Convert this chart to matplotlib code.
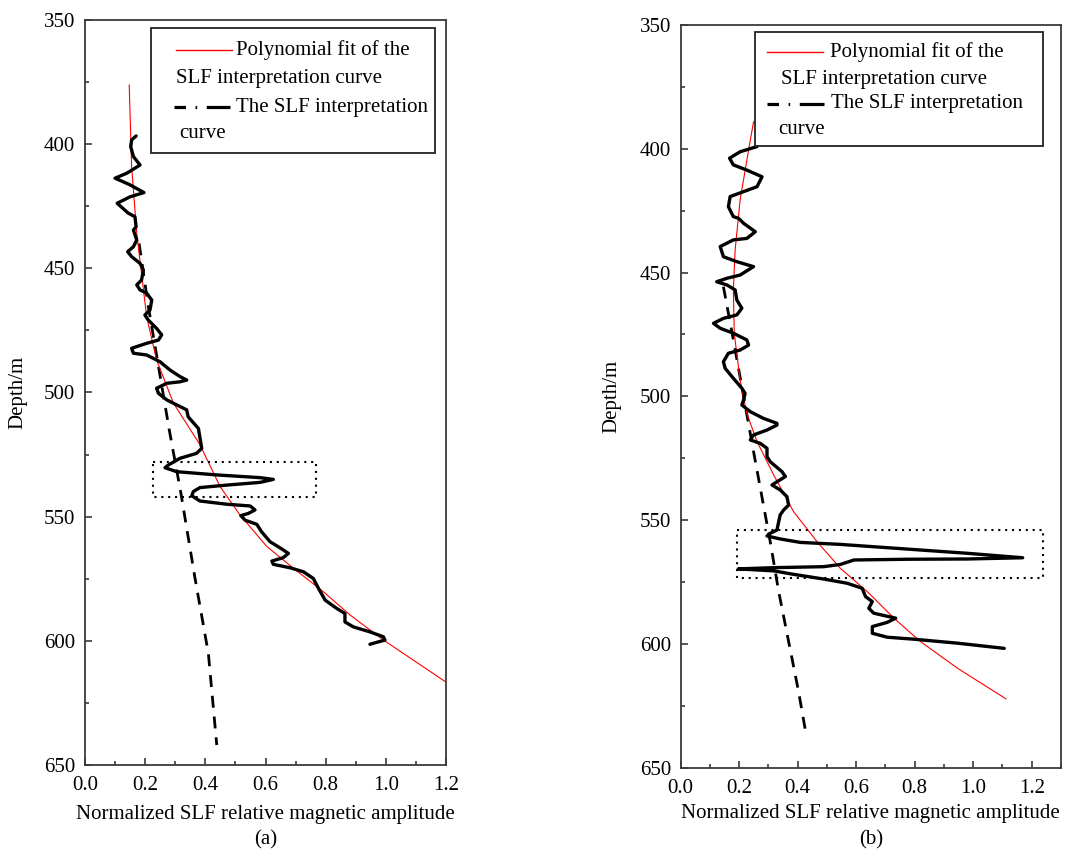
import matplotlib
matplotlib.use('Agg')
import matplotlib.pyplot as plt
from matplotlib.lines import Line2D
from matplotlib.patches import Rectangle
from matplotlib.ticker import MultipleLocator

plt.rcParams['font.family'] = ['Liberation Serif', 'DejaVu Serif']
plt.rcParams['font.size'] = 15

# ---- panel (a) ----
a_slf_x = [0.170, 0.155, 0.152, 0.161, 0.183, 0.139, 0.100, 0.150, 0.196, 0.150,
           0.107, 0.144, 0.166, 0.170, 0.161, 0.172, 0.161, 0.142, 0.155, 0.183,
           0.194, 0.188, 0.172, 0.183, 0.205, 0.222, 0.216, 0.199, 0.210, 0.238,
           0.255, 0.244, 0.205, 0.155, 0.161, 0.205, 0.249, 0.283, 0.316, 0.338,
           0.316, 0.272, 0.238, 0.244, 0.272, 0.305, 0.338, 0.343, 0.377, 0.388,
           0.371, 0.316, 0.277, 0.266, 0.305, 0.438, 0.582, 0.626, 0.582, 0.471,
           0.382, 0.360, 0.355, 0.382, 0.471, 0.549, 0.565, 0.543, 0.518, 0.532,
           0.571, 0.587, 0.615, 0.654, 0.676, 0.659, 0.621, 0.626, 0.682, 0.726,
           0.759, 0.776, 0.798, 0.837, 0.864, 0.864, 0.892, 0.947, 0.992, 0.997,
           0.970, 0.947]
a_slf_depth = [396.7, 398.3, 401.0, 405.0, 408.4, 411.7, 413.7, 416.4, 419.5, 421.2,
               423.8, 427.8, 429.2, 433.2, 434.6, 438.6, 441.3, 443.3, 445.3, 448.0,
               450.7, 454.7, 456.7, 458.7, 460.0, 462.8, 466.8, 468.8, 470.8, 474.2,
               476.8, 478.9, 480.2, 482.2, 484.2, 484.9, 487.6, 491.0, 493.6, 495.0,
               495.7, 496.3, 498.3, 500.3, 503.0, 505.0, 507.0, 509.8, 514.5, 522.5,
               524.5, 526.5, 529.2, 530.3, 531.9, 533.2, 534.3, 535.0, 536.2, 537.3,
               538.3, 539.9, 541.6, 543.7, 545.0, 545.7, 547.3, 548.7, 549.6, 551.4,
               553.1, 556.1, 560.1, 563.0, 564.8, 566.5, 567.9, 569.2, 570.6, 572.2,
               574.9, 578.9, 583.6, 587.0, 589.0, 592.4, 594.4, 596.4, 598.4, 599.7,
               600.6, 601.4]
a_fit_x = [0.147, 0.155, 0.172, 0.205, 0.238, 0.294, 0.382, 0.449, 0.515, 0.604,
           0.693, 0.792, 0.881, 0.992, 1.197]
a_fit_depth = [376.2, 409.0, 435.9, 469.5, 486.9, 504.3, 521.0, 537.9, 549.3, 562.0,
               570.8, 580.2, 589.6, 599.7, 616.4]
a_trend_x = [0.180, 0.210, 0.245, 0.280, 0.318, 0.366, 0.410, 0.438]
a_trend_depth = [440, 465, 490, 515, 540, 575, 605, 642]
a_box = (0.225, 0.768, 528, 542)   # x0, x1, depth top, depth bottom

# ---- panel (b) ----
b_slf_x = [0.261, 0.203, 0.167, 0.180, 0.226, 0.278, 0.261, 0.215, 0.169, 0.163,
           0.180, 0.198, 0.215, 0.255, 0.226, 0.180, 0.135, 0.146, 0.192, 0.249,
           0.203, 0.158, 0.123, 0.158, 0.186, 0.192, 0.209, 0.192, 0.146, 0.112,
           0.135, 0.180, 0.226, 0.232, 0.203, 0.163, 0.146, 0.152, 0.180, 0.209,
           0.220, 0.215, 0.209, 0.238, 0.283, 0.329, 0.329, 0.295, 0.249, 0.238,
           0.272, 0.295, 0.295, 0.306, 0.346, 0.358, 0.329, 0.312, 0.340, 0.363,
           0.369, 0.352, 0.340, 0.335, 0.329, 0.306, 0.295, 0.340, 0.409, 0.546,
           0.775, 0.980, 1.169, 0.980, 0.775, 0.592, 0.546, 0.489, 0.318, 0.197,
           0.318, 0.386, 0.489, 0.569, 0.620, 0.632, 0.655, 0.643, 0.660, 0.735,
           0.706, 0.655, 0.655, 0.706, 0.797, 0.946, 1.106]
b_slf_depth = [399.1, 401.2, 403.8, 406.5, 408.6, 411.3, 415.3, 417.3, 419.3, 423.4,
               427.4, 428.1, 430.1, 433.5, 436.2, 436.8, 439.5, 443.6, 445.6, 447.6,
               451.0, 452.3, 453.7, 455.0, 457.0, 461.1, 464.4, 467.1, 468.5, 470.5,
               472.5, 474.5, 477.2, 479.3, 481.3, 482.6, 486.0, 488.7, 492.7, 496.7,
               498.8, 501.5, 503.5, 506.2, 508.9, 510.9, 511.6, 513.6, 515.6, 517.6,
               519.0, 521.0, 524.4, 526.4, 530.4, 532.4, 534.5, 535.8, 537.8, 540.5,
               543.9, 545.9, 547.9, 550.6, 554.0, 555.3, 556.4, 557.6, 559.0, 559.8,
               561.7, 563.4, 565.2, 565.7, 565.8, 566.1, 567.9, 568.8, 569.2, 569.7,
               570.5, 571.9, 573.8, 575.5, 577.5, 580.9, 582.9, 585.6, 587.6, 589.6,
               591.3, 593.0, 595.7, 597.3, 598.1, 599.7, 601.8]
b_fit_x = [0.249, 0.232, 0.203, 0.186, 0.180, 0.183, 0.203, 0.226, 0.261, 0.318,
           0.386, 0.466, 0.546, 0.638, 0.729, 0.820, 0.946, 1.112]
b_fit_depth = [389.1, 400.5, 420.7, 440.9, 457.0, 474.5, 493.4, 506.9, 518.3, 531.8,
               546.6, 558.7, 569.5, 578.9, 589.6, 599.1, 609.8, 622.2]
b_trend_x = [0.146, 0.180, 0.249, 0.306, 0.335, 0.369, 0.403, 0.426]
b_trend_depth = [455.7, 477.2, 522.3, 558.7, 578.9, 599.1, 619.3, 634.8]
b_box = (0.192, 1.238, 554, 573.2)

fit_label = ['Polynomial fit of the', 'SLF interpretation curve']
slf_label = ['The SLF interpretation', 'curve']
x_label = 'Normalized SLF relative magnetic amplitude'
y_label = 'Depth/m'

spine_col = '#3a3a3a'


def draw_panel(ax, slf_x, slf_d, fit_x, fit_d, trend_x, trend_d, box, xmax):
    ax.plot(fit_x, fit_d, color='red', lw=0.8, zorder=3)
    ax.plot(trend_x, trend_d, color='black', lw=2.0, dashes=(4.3, 3.2), zorder=2)
    ax.plot(slf_x, slf_d, color='black', lw=2.4, solid_joinstyle='round',
            solid_capstyle='round', zorder=4)
    x0, x1, d0, d1 = box
    ax.add_patch(Rectangle((x0, d0), x1 - x0, d1 - d0, fill=False, ec='black',
                           lw=1.5, ls=(0, (1, 2.3)), zorder=3))
    ax.set_xlim(0, xmax)
    ax.set_ylim(650, 350)
    ax.set_xticks([0.0, 0.2, 0.4, 0.6, 0.8, 1.0, 1.2])
    ax.set_xticklabels(['0.0', '0.2', '0.4', '0.6', '0.8', '1.0', '1.2'])
    ax.xaxis.set_minor_locator(MultipleLocator(0.1))
    ax.set_yticks([350, 400, 450, 500, 550, 600, 650])
    ax.yaxis.set_minor_locator(MultipleLocator(25))
    ax.tick_params(which='both', direction='in', color=spine_col, width=1.2,
                   top=False, right=False, labelsize=15)
    ax.tick_params(which='major', length=5)
    ax.tick_params(which='minor', length=3)
    ax.tick_params(axis='y', pad=7)
    ax.tick_params(axis='x', pad=8)
    for s in ax.spines.values():
        s.set_color(spine_col)
        s.set_linewidth(1.3)


def draw_key(ax, box, h1, h2, rows):
    bx0, bx1, by0, by1 = box
    ax.add_patch(Rectangle((bx0, by0), bx1 - bx0, by1 - by0, transform=ax.transAxes,
                           fc='white', ec='#222222', lw=1.3, zorder=6))
    ax.add_line(Line2D(h1[:2], [h1[2], h1[2]], transform=ax.transAxes, color='red',
                       lw=1.0, zorder=7))
    ax.add_line(Line2D(h2[:2], [h2[2], h2[2]], transform=ax.transAxes, color='black',
                       lw=2.3, dashes=(3.6, 3.0, 0.5, 3.0, 10, 2), dash_capstyle='butt',
                       zorder=7))
    for tx, ty, s in rows:
        ax.text(tx, ty, s, transform=ax.transAxes, ha='left', va='center',
                fontsize=15, zorder=8)


fig = plt.figure(figsize=(10.73, 8.51), dpi=100)
ax_a = fig.add_axes([0.0792, 0.1011, 0.3365, 0.8754])
ax_b = fig.add_axes([0.6344, 0.0979, 0.3544, 0.8727])

draw_panel(ax_a, a_slf_x, a_slf_depth, a_fit_x, a_fit_depth, a_trend_x, a_trend_depth,
           a_box, 1.2)
draw_panel(ax_b, b_slf_x, b_slf_depth, b_fit_x, b_fit_depth, b_trend_x, b_trend_depth,
           b_box, 1.3)

draw_key(ax_a, (0.182, 0.970, 0.8215, 0.989), (0.252, 0.407, 0.960), (0.246, 0.402, 0.883),
         [(0.419, 0.960, fit_label[0]), (0.253, 0.921, fit_label[1]),
          (0.419, 0.883, slf_label[0]), (0.261, 0.848, slf_label[1])])
draw_key(ax_b, (0.195, 0.953, 0.837, 0.9906), (0.228, 0.375, 0.964), (0.228, 0.378, 0.894),
         [(0.393, 0.964, fit_label[0]), (0.264, 0.927, fit_label[1]),
          (0.395, 0.894, slf_label[0]), (0.256, 0.859, slf_label[1])])

for ax, lx, xy, tag in [(ax_a, -0.186, -0.066, '(a)'), (ax_b, -0.181, -0.062, '(b)')]:
    ax.set_xlabel(x_label, fontsize=15, va='center')
    ax.xaxis.set_label_coords(0.5, xy)
    ax.set_ylabel(y_label, fontsize=15, va='center')
    ax.yaxis.set_label_coords(lx, 0.5)
    ax.text(0.5, xy - 0.035, tag, transform=ax.transAxes, ha='center', va='center',
            fontsize=15)

fig.savefig('out.png', dpi=100)
